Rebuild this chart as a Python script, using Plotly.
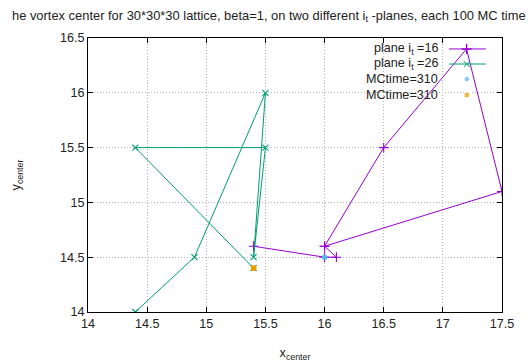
import plotly.graph_objects as go

# Vortex-centre trajectories on two i_t-planes
plane16_x = [15.4, 16.0, 16.1, 16.0, 16.5, 17.2, 17.5, 16.0]
plane16_y = [14.6, 14.5, 14.5, 14.6, 15.5, 16.4, 15.1, 14.6]
plane26_x = [14.4, 14.9, 15.5, 15.4, 15.5, 14.4, 15.4]
plane26_y = [14.0, 14.5, 16.0, 14.5, 15.5, 15.5, 14.4]

# Centre position at MC time 310 on each plane
mc310_a_x, mc310_a_y = [16.0], [14.5]
mc310_b_x, mc310_b_y = [15.4], [14.4]

x_ticks = [14, 14.5, 15, 15.5, 16, 16.5, 17, 17.5]
y_ticks = [14, 14.5, 15, 15.5, 16, 16.5]

legend_labels = ["plane i<sub>t</sub> =16", "plane i<sub>t</sub> =26", "MCtime=310", "MCtime=310"]

PURPLE = "#9400d3"
GREEN = "#009e73"
BLUE = "#56b4e9"
ORANGE = "#e69f00"
FONT = "Liberation Sans"
TXT = "#222222"
FS = 12.6

fig = go.Figure()
fig.add_trace(go.Scatter(x=plane16_x, y=plane16_y, mode="lines+markers", name=legend_labels[0],
                         line=dict(color=PURPLE, width=1),
                         marker=dict(symbol="cross-thin", size=7, line=dict(color=PURPLE, width=1.1))))
fig.add_trace(go.Scatter(x=plane26_x, y=plane26_y, mode="lines+markers", name=legend_labels[1],
                         line=dict(color=GREEN, width=1),
                         marker=dict(symbol="x-thin", size=6, line=dict(color=GREEN, width=1.1))))
fig.add_trace(go.Scatter(x=mc310_a_x, y=mc310_a_y, mode="markers", name=legend_labels[2],
                         marker=dict(symbol="circle", size=5.5, color=BLUE)))
fig.add_trace(go.Scatter(x=mc310_b_x, y=mc310_b_y, mode="markers", name=legend_labels[3],
                         marker=dict(symbol="square", size=5.5, color=ORANGE)))

# gnuplot-style key: label on the left, sample on the right (drawn on a unit overlay axis)
key_rows = [0.960, 0.905, 0.850, 0.792]
key_styles = [
    dict(mode="lines+markers", line=dict(color=PURPLE, width=1),
         marker=dict(symbol="cross-thin", size=[0, 7, 0], line=dict(color=PURPLE, width=1.1))),
    dict(mode="lines+markers", line=dict(color=GREEN, width=1),
         marker=dict(symbol="x-thin", size=[0, 6, 0], line=dict(color=GREEN, width=1.1))),
    dict(mode="markers", marker=dict(symbol="circle", size=[0, 5.5, 0], color=BLUE)),
    dict(mode="markers", marker=dict(symbol="square", size=[0, 5.5, 0], color=ORANGE)),
]
for yk, style, label in zip(key_rows, key_styles, legend_labels):
    fig.add_trace(go.Scatter(x=[0.872, 0.915, 0.961], y=[yk] * 3, xaxis="x2", yaxis="y2",
                             showlegend=False, hoverinfo="skip", **style))
    fig.add_annotation(x=0.85, y=yk, xref="paper", yref="paper", text=label,
                       showarrow=False, xanchor="right", yanchor="middle",
                       font=dict(family=FONT, size=FS, color=TXT))

# opaque key box hides the grid behind it
fig.add_shape(type="rect", xref="paper", yref="paper", x0=0.66, x1=0.975, y0=0.765, y1=1.0,
              fillcolor="white", line=dict(width=0), layer="between")

axis_common = dict(showline=True, linecolor="black", linewidth=1, mirror="ticks",
                   ticks="inside", ticklen=5, tickcolor="black", automargin=False,
                   showgrid=True, gridcolor="#b4b4b4", griddash="1px,2px", gridwidth=1,
                   zeroline=False, tickfont=dict(family=FONT, size=FS, color=TXT))

fig.update_layout(
    width=528, height=362,
    margin=dict(l=88, r=26, t=38, b=50),
    paper_bgcolor="white", plot_bgcolor="white",
    showlegend=False,
    title=dict(text="he vortex center for 30*30*30 lattice, beta=1, on two different i<sub>t</sub> -planes, each 100 MC time",
               x=12 / 528, xanchor="left", y=1 - 15 / 362, yanchor="middle",
               font=dict(family=FONT, size=12.9, color=TXT)),
    xaxis=dict(range=[14, 17.5], tickvals=x_ticks, ticktext=[f"{v:g}" for v in x_ticks],
               title=dict(text="x<sub>center</sub>", standoff=18,
                          font=dict(family=FONT, size=FS, color=TXT)),
               **axis_common),
    yaxis=dict(range=[14, 16.5], tickvals=y_ticks, ticktext=[f"{v:g}" for v in y_ticks],
               title=dict(text="y<sub>center</sub>", standoff=36,
                          font=dict(family=FONT, size=FS, color=TXT)),
               **axis_common),
    xaxis2=dict(range=[0, 1], overlaying="x", visible=False, fixedrange=True),
    yaxis2=dict(range=[0, 1], overlaying="y", visible=False, fixedrange=True),
)

fig.write_html("out.html")
